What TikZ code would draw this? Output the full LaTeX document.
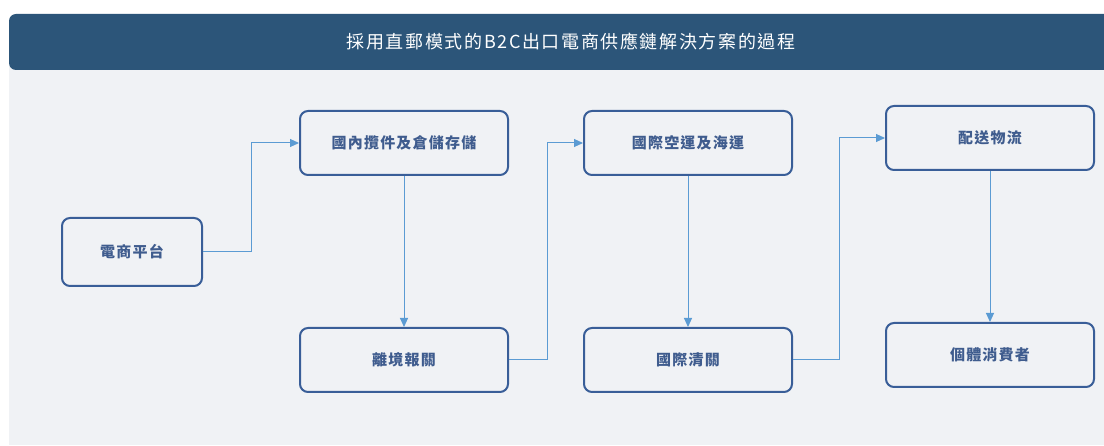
\documentclass[tikz,border=0pt]{standalone}
\usepackage{fontspec}
\usetikzlibrary{arrows.meta}
\newfontfamily\cjk[LetterSpace=9]{Noto Sans CJK TC}
\newfontfamily\cjkbox[LetterSpace=8]{Noto Sans CJK TC}
\definecolor{barblue}{HTML}{2C5579}
\definecolor{panelgray}{HTML}{F0F2F5}
\definecolor{boxblue}{HTML}{395E98}
\definecolor{textblue}{HTML}{3F5C8E}
\definecolor{linkblue}{HTML}{5B9BD3}

\begin{document}
\begin{tikzpicture}[x=1pt,y=-1pt,
	step box/.style={draw=boxblue,line width=2pt,rounded corners=8pt,fill=panelgray,
		minimum width=208pt,minimum height=64pt,inner sep=0pt,
		font=\cjkbox\fontsize{15pt}{17pt}\selectfont\bfseries,text=textblue},
	link/.style={draw=linkblue,line width=1pt,-{Triangle[length=9pt,width=8pt]}}]
	\useasboundingbox (0,0) rectangle (1104,446);
	\fill[white] (0,0) rectangle (1104,446);
	% panel and title bar
	\fill[panelgray] (9,66) rectangle (1104,445);
	\fill[barblue] (1104,14) [rounded corners=7pt] -- (9,14) -- (9,70) [sharp corners] -- (1104,70) -- cycle;
	\node[text=white,font=\cjk\fontsize{18pt}{20pt}\selectfont] (title) at (571,42) {採用直郵模式的B2C出口電商供應鏈解決方案的過程};

	% steps
	\node[step box,minimum width=140pt,minimum height=68pt] (platform) at (132,252) {電商平台};
	\node[step box] (pickup) at (404,143) {國內攬件及倉儲存儲};
	\node[step box] (export) at (404,360) {離境報關};
	\node[step box] (freight) at (688,143) {國際空運及海運};
	\node[step box] (clearance) at (688,360) {國際清關};
	\node[step box] (delivery) at (990,138) {配送物流};
	\node[step box] (consumer) at (990,355) {個體消費者};

	% links
	\draw[link] (platform.east) -- ++(48,0) |- (pickup.west);
	\draw[link] (pickup) -- (export);
	\draw[link] (export.east) -- ++(38,0) |- (freight.west);
	\draw[link] (freight) -- (clearance);
	\draw[link] (clearance.east) -- ++(46,0) |- (delivery.west);
	\draw[link] (delivery) -- (consumer);
\end{tikzpicture}
\end{document}
